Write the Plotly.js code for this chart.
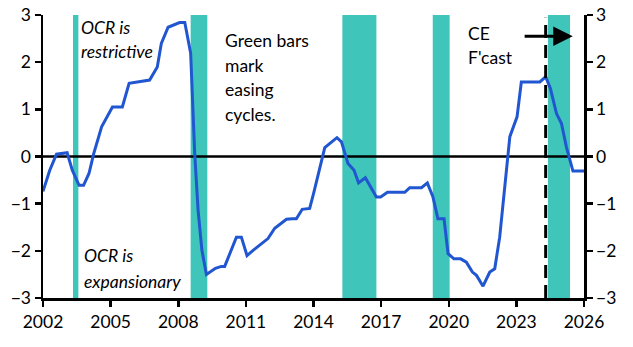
<!DOCTYPE html>
<html><head><meta charset="utf-8">
<script src="https://cdn.plot.ly/plotly-3.0.1.min.js"></script>
<style>html,body{margin:0;padding:0;background:#fff}#chart{width:633px;height:347px}</style>
</head><body><div id="chart"></div>
<script>
const years = [2002.0, 2002.3, 2002.6, 2003.07, 2003.3, 2003.6, 2003.8, 2004.04, 2004.25, 2004.6, 2005.08, 2005.52, 2005.82, 2006.73, 2007.07, 2007.25, 2007.55, 2007.72, 2008.06, 2008.29, 2008.55, 2008.73, 2008.88, 2009.05, 2009.25, 2009.65, 2009.91, 2010.06, 2010.3, 2010.58, 2010.8, 2011.05, 2011.32, 2011.76, 2011.98, 2012.28, 2012.8, 2013.06, 2013.24, 2013.5, 2013.83, 2014.01, 2014.31, 2014.5, 2015.04, 2015.24, 2015.53, 2015.8, 2016.0, 2016.3, 2016.79, 2016.98, 2017.28, 2018.05, 2018.27, 2018.79, 2019.05, 2019.3, 2019.52, 2019.79, 2019.97, 2020.23, 2020.53, 2020.78, 2021.05, 2021.23, 2021.52, 2021.82, 2022.04, 2022.26, 2022.71, 2023.03, 2023.22, 2024.04, 2024.3, 2024.51, 2024.78, 2025.0, 2025.22, 2025.51, 2026.0];
const gap = [-0.74, -0.29, 0.05, 0.08, -0.29, -0.61, -0.61, -0.36, 0.06, 0.63, 1.05, 1.05, 1.55, 1.62, 1.9, 2.4, 2.74, 2.77, 2.84, 2.84, 2.19, 0.06, -1.14, -1.99, -2.5, -2.37, -2.33, -2.33, -2.05, -1.71, -1.71, -2.1, -1.99, -1.82, -1.74, -1.52, -1.33, -1.32, -1.32, -1.12, -1.1, -0.77, -0.15, 0.19, 0.4, 0.31, -0.15, -0.29, -0.56, -0.45, -0.86, -0.86, -0.76, -0.76, -0.66, -0.66, -0.56, -0.86, -1.32, -1.32, -2.06, -2.17, -2.17, -2.24, -2.45, -2.52, -2.75, -2.45, -2.38, -1.71, 0.42, 0.84, 1.58, 1.58, 1.69, 1.44, 0.91, 0.7, 0.2, -0.31, -0.31];
const easeStart = [2003.33, 2008.55, 2015.28, 2019.29, 2024.4];
const easeEnd = [2003.57, 2009.29, 2016.79, 2020.04, 2025.38];
const forecastStart = 2024.3;
const xTicks = [2002, 2005, 2008, 2011, 2014, 2017, 2020, 2023, 2026];
const yTicks = [-3, -2, -1, 0, 1, 2, 3];

const FONT = 'Lato, sans-serif';
const shapes = [];
for (let i = 0; i < easeStart.length; i++) {
  shapes.push({type:'rect', xref:'x', yref:'paper', x0:easeStart[i], x1:easeEnd[i], y0:0, y1:1,
    fillcolor:'#40c5bb', line:{width:0}, layer:'below'});
}
shapes.push({type:'line', xref:'paper', yref:'y', x0:0, x1:1, y0:0, y1:0, line:{color:'#000', width:2.5}, layer:'below'});
shapes.push({type:'line', xref:'x', yref:'paper', x0:forecastStart, x1:forecastStart, y0:0, y1:0.99,
  line:{color:'#000', width:3, dash:'13px,7px'}, layer:'above'});

function txt(t, x, y, italic) {
  return {text:t, x:x, y:y, xref:'x', yref:'y', xanchor:'left', yanchor:'middle', showarrow:false,
    font:{family:FONT, size:17.5, color:'#000', style: italic ? 'italic' : 'normal'}};
}
const annotations = [
  txt('OCR is', 2003.6, 2.74, true),
  txt('restrictive', 2003.58, 2.22, true),
  txt('Green bars', 2009.97, 2.46, false),
  txt('mark', 2009.97, 1.94, false),
  txt('easing', 2009.97, 1.42, false),
  txt('cycles.', 2009.97, 0.9, false),
  txt('CE', 2020.75, 2.61, false),
  txt("F'cast", 2020.75, 2.1, false),
  txt('OCR is', 2003.72, -2.1, true),
  txt('expansionary', 2003.72, -2.64, true),
  {x:2025.5, y:2.55, ax:2023.3, ay:2.55, xref:'x', yref:'y', axref:'x', ayref:'y', text:'', showarrow:true,
   arrowhead:2, arrowsize:1.3, arrowwidth:3, arrowcolor:'#000', standoff:0, startstandoff:0}
];

const axisCommon = {range:[-3,3], tickvals:yTicks, ticks:'outside', ticklen:6, tickwidth:2.5, tickcolor:'#000',
  showline:true, linecolor:'#000', linewidth:2.5, showgrid:false, zeroline:false,
  tickfont:{family:FONT, size:17.5, color:'#000'}, fixedrange:true};

const data = [
  {x:years, y:gap, type:'scatter', mode:'lines', line:{color:'#2156d1', width:3}, hoverinfo:'skip', showlegend:false},
  {x:[2002], y:[0], yaxis:'y2', type:'scatter', mode:'markers', marker:{opacity:0}, hoverinfo:'skip', showlegend:false}
];
const layout = {
  width:633, height:347, margin:{l:43, r:49, t:15, b:49},
  paper_bgcolor:'#fff', plot_bgcolor:'rgba(0,0,0,0)', showlegend:false,
  xaxis:{range:[2002,2026], tickvals:xTicks, ticks:'outside', ticklen:6, tickwidth:2.5, tickcolor:'#000',
    showline:true, linecolor:'#000', linewidth:2.5, showgrid:false, zeroline:false,
    tickfont:{family:FONT, size:17.5, color:'#000'}, fixedrange:true},
  yaxis:Object.assign({}, axisCommon, {side:'left'}),
  yaxis2:Object.assign({}, axisCommon, {side:'right', overlaying:'y'}),
  shapes:shapes, annotations:annotations
};
Plotly.newPlot('chart', data, layout, {displayModeBar:false, staticPlot:true});
</script></body></html>
